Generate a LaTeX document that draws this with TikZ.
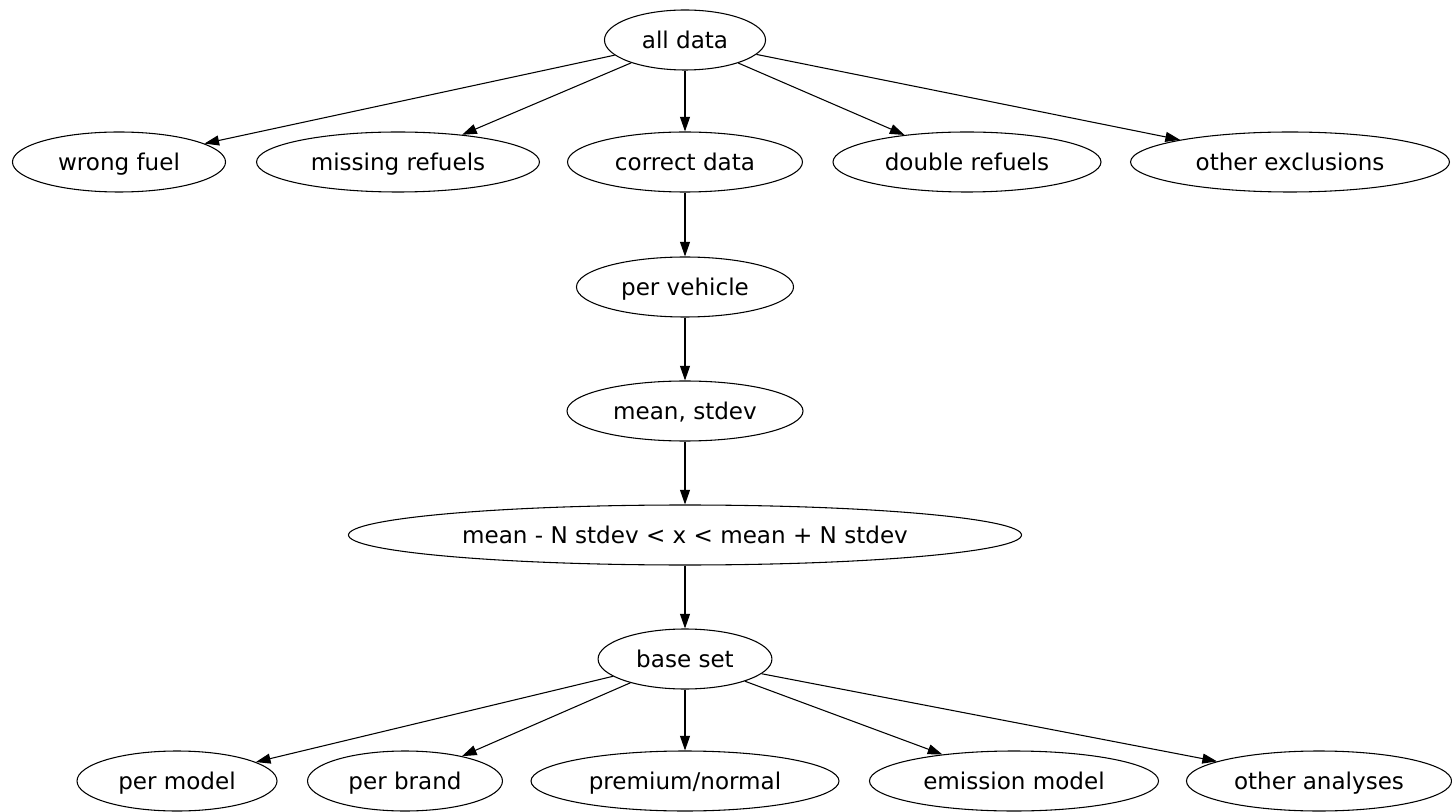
\documentclass[tikz,border=0pt]{standalone}
\usepackage{fontspec}
\setmainfont{DejaVu Sans}
\usetikzlibrary{shapes.geometric,arrows.meta}
\begin{document}
\begin{tikzpicture}[x=0.75pt,y=-0.75pt,
  el/.style={draw,ellipse,inner sep=0pt,minimum height=45pt,line width=0.8pt,text height=14.2pt,text depth=1.6pt,font=\fontsize{17.3}{20}\selectfont},
  edge/.style={draw,line width=0.8pt,-{Triangle[length=11pt,width=7.5pt]}}]
\useasboundingbox (0,0) rectangle (1452,812);
\node[el,minimum width=2*60.4pt] (all) at (685,40) {all data};
\node[el,minimum width=2*79.9pt] (wf) at (119,162) {wrong fuel};
\node[el,minimum width=2*106.1pt] (mr) at (398,162) {missing refuels};
\node[el,minimum width=2*88.1pt] (cd) at (685,162) {correct data};
\node[el,minimum width=2*100.5pt] (dr) at (967,162) {double refuels};
\node[el,minimum width=2*119.6pt] (oe) at (1290,162) {other exclusions};
\node[el,minimum width=2*81.4pt] (pv) at (685,287) {per vehicle};
\node[el,minimum width=2*88.5pt] (ms) at (685,411) {mean, stdev};
\node[el,minimum width=2*252.4pt] (nn) at (685,535) {mean - N stdev < x < mean + N stdev};
\node[el,minimum width=2*65.2pt] (bs) at (685,659) {base set};
\node[el,minimum width=2*75pt] (pm) at (177,781) {per model};
\node[el,minimum width=2*73.1pt] (pb) at (405,781) {per brand};
\node[el,minimum width=2*115.5pt] (pn) at (685,781) {premium/normal};
\node[el,minimum width=2*108.4pt] (em) at (1014,781) {emission model};
\node[el,minimum width=2*99.4pt] (oa) at (1319,781) {other analyses};
\foreach \t in {wf,mr,cd,dr,oe} \draw[edge] (all) -- (\t);
\draw[edge] (cd) -- (pv);
\draw[edge] (pv) -- (ms);
\draw[edge] (ms) -- (nn);
\draw[edge] (nn) -- (bs);
\foreach \t in {pm,pb,pn,em,oa} \draw[edge] (bs) -- (\t);
\end{tikzpicture}
\end{document}
